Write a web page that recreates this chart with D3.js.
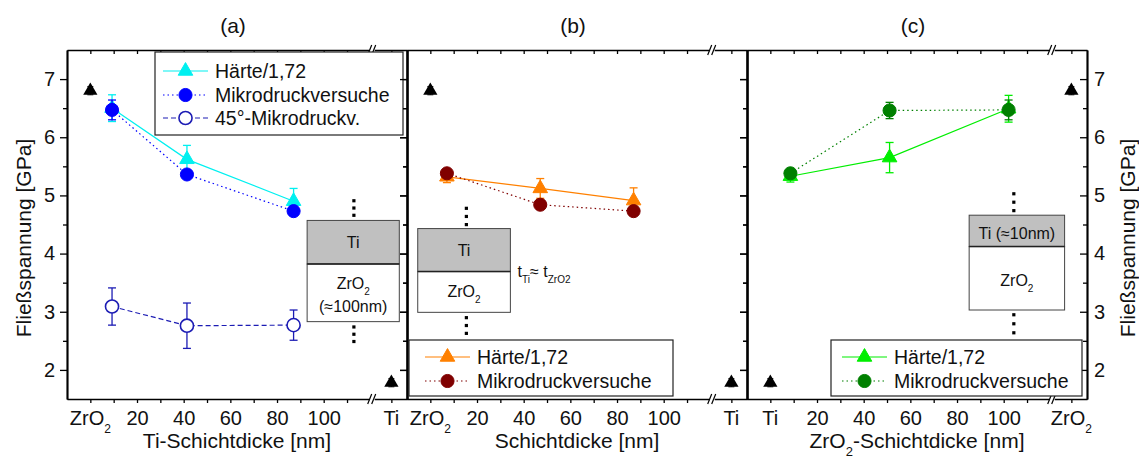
<!DOCTYPE html>
<html>
<head>
<meta charset="utf-8">
<script src="https://cdn.jsdelivr.net/npm/d3@7"></script>
<style>
body { margin: 0; background: #fff; }
</style>
</head>
<body>
<div id="chart"></div>
<script>
// ---- data ----
var panelNames = ["(a)", "(b)", "(c)"];
var xTitles = ["Ti-Schichtdicke [nm]", "Schichtdicke [nm]", "ZrO_2-Schichtdicke [nm]"];
var numTicks = [20, 40, 60, 80, 100];
var endLabels = [["ZrO_2", "Ti"], ["ZrO_2", "Ti"], ["Ti", "ZrO_2"]];
var yTicks = [2, 3, 4, 5, 6, 7];

// reference (pure material) values: x = 0 and x = 129 (after axis break)
var refPos = [0, 129];
var refStress = [[6.80, 1.78], [6.80, 1.78], [1.78, 6.80]];
var refErr = [0.07, 0.07];

// (a) Ti thickness varied, ZrO2 ~100nm
var aThick = [9.3, 41.4, 87.1];
var aHaerte = [6.50, 5.62, 4.90], aHaerteErr = [0.23, 0.24, 0.22];
var aMikro = [6.47, 5.36, 4.73], aMikroErr = [0.17, 0.05, 0.05];
var a45 = [3.09, 2.76, 2.77], a45Err = [0.32, 0.39, 0.26];
// (b) t_Ti = t_ZrO2
var bThick = [7.1, 47.1, 87.1];
var bHaerte = [5.32, 5.12, 4.91], bHaerteErr = [0.10, 0.17, 0.22];
var bMikro = [5.38, 4.84, 4.73], bMikroErr = [0.06, 0.04, 0.05];
// (c) ZrO2 thickness varied, Ti ~10nm
var cThick = [8.6, 51.1, 102.1];
var cHaerte = [5.33, 5.65, 6.49], cHaerteErr = [0.10, 0.26, 0.23];
var cMikro = [5.38, 6.46, 6.47], cMikroErr = [0.06, 0.14, 0.17];

// ---- layout ----
var W = 1139, H = 463;
var panelLeft = [67, 407, 747], panelTop = 50, panelW = 340, panelH = 349;
var font = "'Liberation Sans', Arial, Helvetica, sans-serif";
var breakAt = 121;

var x = d3.scaleLinear().domain([-10, 135.7]).range([0, panelW]);
var y = d3.scaleLinear().domain([1.5, 7.5]).range([panelH, 0]);

function zip(xs, ys, es) {
    return xs.map(function(v, i) { return [v, ys[i], es[i]]; });
}

var panels = [
    {
        series: [
            {name: "Härte/1,72", pts: zip(aThick, aHaerte, aHaerteErr), color: "#00f0f0", dash: null, sym: d3.symbolTriangle, fill: true},
            {name: "Mikrodruckversuche", pts: zip(aThick, aMikro, aMikroErr), color: "#0000ff", dash: "1.5,3", sym: d3.symbolCircle, fill: true},
            {name: "45°-Mikrodruckv.", pts: zip(aThick, a45, a45Err), color: "#1c1cb4", dash: "5,3", sym: d3.symbolCircle, fill: false}
        ],
        legend: {x: 88, y: 2, w: 248, h: 83, rows: [21, 45, 68], lineX: 96},
        stack: {x0: 92.9, x1: 132.4, top: 4.57, mid: 3.82, bot: 2.83, dotX: 112.9,
                dotsUp: [4.91, 4.66], dotsDown: [2.74, 2.49],
                grayText: [["Ti", 4.09]], whiteText: [["ZrO_2", 3.39], ["(≈100nm)", 2.99]]}
    },
    {
        series: [
            {name: "Härte/1,72", pts: zip(bThick, bHaerte, bHaerteErr), color: "#ff8000", dash: null, sym: d3.symbolTriangle, fill: true},
            {name: "Mikrodruckversuche", pts: zip(bThick, bMikro, bMikroErr), color: "#800000", dash: "1.5,3", sym: d3.symbolCircle, fill: true}
        ],
        legend: {x: 2, y: 290, w: 264, h: 56, rows: [307, 331], lineX: 18},
        stack: {x0: -5.4, x1: 34.3, top: 4.43, mid: 3.69, bot: 2.99, dotX: 15.4,
                dotsUp: [4.78, 4.50], dotsDown: [2.90, 2.63],
                grayText: [["Ti", 3.95]], whiteText: [["ZrO_2", 3.25]]},
        note: {text: "t_{Ti}≈ t_{ZrO2}", x: 37.4, y: 3.60}
    },
    {
        series: [
            {name: "Härte/1,72", pts: zip(cThick, cHaerte, cHaerteErr), color: "#00ee00", dash: null, sym: d3.symbolTriangle, fill: true},
            {name: "Mikrodruckversuche", pts: zip(cThick, cMikro, cMikroErr), color: "#008000", dash: "1.5,3", sym: d3.symbolCircle, fill: true}
        ],
        legend: {x: 84, y: 290, w: 251, h: 56, rows: [307, 331], lineX: 95},
        stack: {x0: 85.2, x1: 126.1, top: 4.66, mid: 4.12, bot: 3.03, dotX: 104.3,
                dotsUp: [5.03, 4.74], dotsDown: [2.95, 2.64],
                grayText: [["Ti (≈10nm)", 4.25]], whiteText: [["ZrO_2", 3.45]]}
    }
];

// text with subscripts: "ZrO_2" or "t_{Ti}"
function rich(sel, str, fs) {
    var re = /_\{([^}]*)\}|_(.)/g, last = 0, m, shift = Math.round(fs * 0.38), sub = false;
    while ((m = re.exec(str)) !== null) {
        if (m.index > last) {
            var t = sel.append("tspan").text(str.slice(last, m.index));
            if (sub) { t.attr("dy", -shift); sub = false; }
        }
        sel.append("tspan").text(m[1] || m[2]).attr("font-size", Math.round(fs * 0.62)).attr("dy", sub ? 0 : shift);
        sub = true;
        last = re.lastIndex;
    }
    if (last < str.length) {
        var t2 = sel.append("tspan").text(str.slice(last));
        if (sub) t2.attr("dy", -shift);
    }
    return sel;
}

function symbolPath(type) {
    return d3.symbol().type(type).size(type === d3.symbolTriangle ? 92 : 135)();
}

var svg = d3.select("#chart").append("svg")
    .attr("width", W)
    .attr("height", H)
    .style("font-family", font);

var xAll = d3.range(0, 111, 10).concat([129]);

panels.forEach(function(p, i) {
    var g = svg.append("g")
        .attr("transform", "translate(" + panelLeft[i] + "," + panelTop + ")");

    // ---- axes ----
    g.append("g").attr("transform", "translate(0," + panelH + ")")
        .call(d3.axisBottom(x).tickValues(xAll).tickSize(4).tickSizeOuter(0)
            .tickFormat(function(d) { return numTicks.indexOf(d) >= 0 ? d : ""; }).tickPadding(8));
    g.append("g")
        .call(d3.axisTop(x).tickValues(xAll).tickSize(-4).tickSizeOuter(0).tickFormat(""));
    g.append("g")
        .call(d3.axisLeft(y).tickValues(yTicks).tickSize(7).tickSizeOuter(0).tickPadding(5)
            .tickFormat(i === 0 ? d3.format("d") : ""));
    g.append("g").call(d3.axisLeft(y).tickValues([2.5, 3.5, 4.5, 5.5, 6.5]).tickSize(4).tickSizeOuter(0).tickFormat(""));
    g.append("g").attr("transform", "translate(" + panelW + ",0)")
        .call(d3.axisRight(y).tickValues(yTicks).tickSize(-7).tickSizeOuter(0).tickPadding(7)
            .tickFormat(i === 2 ? d3.format("d") : ""));
    g.append("g").attr("transform", "translate(" + panelW + ",0)")
        .call(d3.axisRight(y).tickValues([2.5, 3.5, 4.5, 5.5, 6.5]).tickSize(-4).tickSizeOuter(0).tickFormat(""));

    g.selectAll(".domain").attr("stroke", "#000").attr("stroke-width", 1.7);
    g.selectAll(".tick line").attr("stroke", "#000").attr("stroke-width", 1.3);
    g.selectAll(".tick text").attr("font-size", 20).attr("font-family", font).attr("fill", "#111");

    // end labels (pure materials)
    refPos.forEach(function(v, k) {
        rich(g.append("text")
            .attr("x", x(v))
            .attr("y", panelH + 26)
            .attr("text-anchor", "middle")
            .attr("font-size", 20)
            .attr("fill", "#111"), endLabels[i][k], 20);
    });

    // axis break marks
    [0, panelH].forEach(function(yy) {
        var bx = x(breakAt);
        g.append("rect").attr("x", bx - 3).attr("y", yy - 2).attr("width", 5).attr("height", 4).attr("fill", "#fff");
        [-3, 1].forEach(function(o) {
            g.append("line")
                .attr("x1", bx + o - 2).attr("y1", yy + 5)
                .attr("x2", bx + o + 2).attr("y2", yy - 5)
                .attr("stroke", "#000").attr("stroke-width", 1.2);
        });
    });

    // titles
    g.append("text")
        .attr("x", panelW / 2 - 4)
        .attr("y", -17)
        .attr("text-anchor", "middle")
        .attr("font-size", 21)
        .attr("fill", "#111")
        .text(panelNames[i]);
    rich(g.append("text")
        .attr("x", panelW / 2)
        .attr("y", panelH + 49)
        .attr("text-anchor", "middle")
        .attr("font-size", 21)
        .attr("fill", "#111"), xTitles[i], 21);

    // ---- layer stack sketch ----
    var s = p.stack;
    g.append("rect")
        .attr("x", x(s.x0)).attr("y", y(s.top))
        .attr("width", x(s.x1) - x(s.x0)).attr("height", y(s.mid) - y(s.top))
        .attr("fill", "#c0c0c0").attr("stroke", "#444").attr("stroke-width", 1);
    g.append("rect")
        .attr("x", x(s.x0)).attr("y", y(s.mid))
        .attr("width", x(s.x1) - x(s.x0)).attr("height", y(s.bot) - y(s.mid))
        .attr("fill", "#fff").attr("stroke", "#444").attr("stroke-width", 1);
    g.append("line")
        .attr("x1", x(s.x0)).attr("x2", x(s.x1))
        .attr("y1", y(s.mid)).attr("y2", y(s.mid))
        .attr("stroke", "#222").attr("stroke-width", 1.5);
    s.grayText.concat(s.whiteText).forEach(function(t) {
        rich(g.append("text")
            .attr("x", (x(s.x0) + x(s.x1)) / 2)
            .attr("y", y(t[1]))
            .attr("text-anchor", "middle")
            .attr("font-size", 16)
            .attr("fill", "#111"), t[0], 16);
    });
    [s.dotsUp, s.dotsDown].forEach(function(d) {
        var y0 = y(d[0]), y1 = y(d[1]);
        [0, 0.5, 1].forEach(function(f) {
            g.append("rect")
                .attr("x", x(s.dotX) - 1.5)
                .attr("y", y0 + (y1 - y0) * f - 1.5)
                .attr("width", 3.2).attr("height", 3.2)
                .attr("fill", "#000");
        });
    });
    if (p.note) {
        rich(g.append("text")
            .attr("x", x(p.note.x))
            .attr("y", y(p.note.y))
            .attr("font-size", 16)
            .attr("fill", "#111"), p.note.text, 16);
    }

    // ---- data series ----
    var line = d3.line()
        .x(function(d) { return x(d[0]); })
        .y(function(d) { return y(d[1]); });

    p.series.forEach(function(se) {
        g.append("path")
            .datum(se.pts)
            .attr("d", line)
            .attr("fill", "none")
            .attr("stroke", se.color)
            .attr("stroke-width", 1.2)
            .attr("stroke-dasharray", se.dash);
    });

    p.series.forEach(function(se) {
        var eb = g.append("g").attr("stroke", se.color).attr("stroke-width", 1.3);
        se.pts.forEach(function(d) {
            eb.append("line").attr("x1", x(d[0])).attr("x2", x(d[0]))
                .attr("y1", y(d[1] - d[2])).attr("y2", y(d[1] + d[2]));
            [d[1] - d[2], d[1] + d[2]].forEach(function(v) {
                eb.append("line").attr("x1", x(d[0]) - 4).attr("x2", x(d[0]) + 4)
                    .attr("y1", y(v)).attr("y2", y(v));
            });
        });
        g.selectAll(null)
            .data(se.pts)
            .enter()
            .append("path")
            .attr("transform", function(d) { return "translate(" + x(d[0]) + "," + y(d[1]) + ")"; })
            .attr("d", symbolPath(se.sym))
            .attr("fill", se.fill ? se.color : "#fff")
            .attr("stroke", se.color)
            .attr("stroke-width", se.fill ? 1 : 1.6);
    });

    // reference triangles
    refPos.forEach(function(v, k) {
        var val = refStress[i][k];
        g.append("line")
            .attr("x1", x(v)).attr("x2", x(v))
            .attr("y1", y(val - refErr[k])).attr("y2", y(val + refErr[k]))
            .attr("stroke", "#000");
        [val - refErr[k], val + refErr[k]].forEach(function(e) {
            g.append("line").attr("x1", x(v) - 3).attr("x2", x(v) + 3)
                .attr("y1", y(e)).attr("y2", y(e)).attr("stroke", "#000");
        });
        g.append("path")
            .attr("transform", "translate(" + x(v) + "," + y(val) + ")")
            .attr("d", d3.symbol().type(d3.symbolTriangle).size(88)())
            .attr("fill", "#000");
    });

    // ---- legend ----
    var L = p.legend;
    var lg = g.append("g");
    lg.append("rect")
        .attr("x", L.x).attr("y", L.y).attr("width", L.w).attr("height", L.h)
        .attr("fill", "#fff").attr("stroke", "#222").attr("stroke-width", 1.2);
    p.series.forEach(function(se, k) {
        var ry = L.rows[k];
        lg.append("line")
            .attr("x1", L.lineX).attr("x2", L.lineX + 45)
            .attr("y1", ry).attr("y2", ry)
            .attr("stroke", se.color).attr("stroke-width", 1.2)
            .attr("stroke-dasharray", se.dash);
        lg.append("path")
            .attr("transform", "translate(" + (L.lineX + 22.5) + "," + ry + ")")
            .attr("d", symbolPath(se.sym))
            .attr("fill", se.fill ? se.color : "#fff")
            .attr("stroke", se.color)
            .attr("stroke-width", se.fill ? 1 : 1.6);
        lg.append("text")
            .attr("x", L.lineX + 52)
            .attr("y", ry + 7)
            .attr("font-size", 19.5)
            .attr("fill", "#111")
            .text(se.name);
    });
});

// y axis titles
[[31, 238], [1135, 238]].forEach(function(pos) {
    svg.append("text")
        .attr("transform", "translate(" + pos[0] + "," + pos[1] + ") rotate(-90)")
        .attr("text-anchor", "middle")
        .attr("font-size", 21)
        .attr("fill", "#111")
        .text("Fließspannung [GPa]");
});
</script>
</body>
</html>
